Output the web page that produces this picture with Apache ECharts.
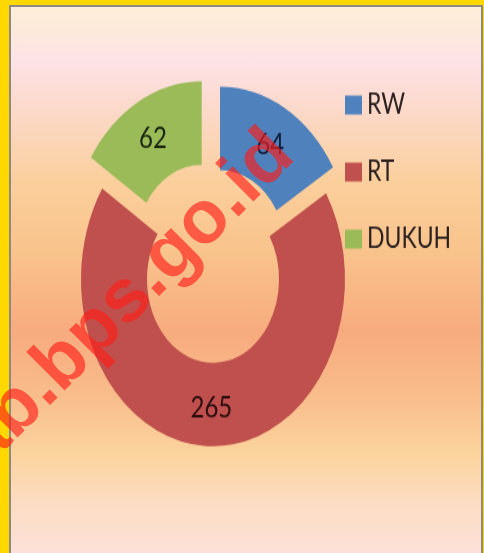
<!DOCTYPE html>
<html>
<head>
<meta charset="utf-8">
<script src="https://cdn.jsdelivr.net/npm/echarts@6/dist/echarts.min.js"></script>
<style>
  html, body { margin: 0; padding: 0; }
  body { width: 484px; height: 553px; background: #ffd800; position: relative; overflow: hidden; }
  #panel {
    position: absolute; left: 9px; top: 5px; width: 470px; height: 548px;
    border: 2px solid #8d8a86; border-bottom: none;
    background: linear-gradient(to bottom,
      #fdeed9 0px, #fdeadb 22px, #fde2e6 55px, #fcdcd4 85px, #fbd6bc 125px,
      #fbcf9c 175px, #f9c38c 245px, #f7ab7e 325px, #f9bd8c 390px,
      #fbd39c 445px, #fcdcc2 495px, #fde1da 548px);
  }
  #chart {
    position: absolute; left: 0; top: 0; width: 484px; height: 437px;
    transform: scaleY(1.265); transform-origin: 0 0;
  }
  #mark { position: absolute; left: 0; top: 0; pointer-events: none; }
</style>
</head>
<body>
<div id="panel"></div>
<div id="chart"></div>
<svg id="mark" width="484" height="553">
  <text x="-45" y="500" transform="rotate(-45 -45 500)"
        font-family="Liberation Sans" font-weight="bold" font-size="75"
        fill="rgba(255,28,24,0.64)">kab.bps.go.id</text>
</svg>
<script>
const names = ['RW', 'RT', 'DUKUH']
const values = [64, 265, 62]
const colors = ['#4f81bd', '#c0504d', '#9bbb59']
const labelColors = ['#101c3a', '#2a0d0d', '#16220e']

// exploded doughnut: each slice gets its own center (chart px, before the vertical stretch)
const centers = [[220, 200.4], [213, 220.8], [201.7, 196.2]]
const labelShift = [3, -1, 3]

const chart = echarts.init(document.getElementById('chart'), null, { renderer: 'canvas' })

const series = names.map((n, k) => ({
  type: 'pie',
  name: n,
  radius: [66, 132],
  center: centers[k],
  startAngle: 90,
  clockwise: true,
  silent: true,
  animation: false,
  labelLine: { show: false },
  data: names.map((m, j) => ({
    name: m,
    value: values[j],
    itemStyle: { color: j === k ? colors[j] : 'rgba(0,0,0,0)', borderWidth: 0 },
    label: {
      show: j === k,
      position: 'inside',
      formatter: '{c}',
      fontFamily: 'Lato',
      fontSize: 24,
      offset: [0, labelShift[j]],
      color: labelColors[j],
    },
  })),
}))

chart.setOption({
  legend: {
    orient: 'vertical',
    left: 340,
    top: 66,
    icon: 'rect',
    itemWidth: 17,
    itemHeight: 15,
    itemGap: 29,
    selectedMode: false,
    textStyle: { fontFamily: 'Lato', fontSize: 23, lineHeight: 24, color: '#2b2020' },
    data: names.map((n, i) => ({ name: n, itemStyle: { color: colors[i], borderWidth: 0 } })),
  },
  series,
})
</script>
</body>
</html>
